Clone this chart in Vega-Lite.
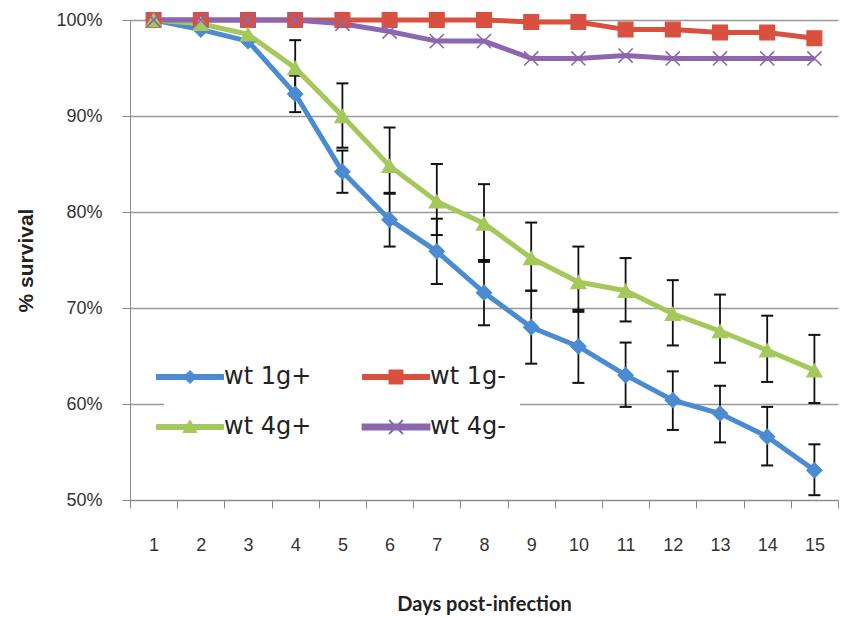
{
  "$schema": "https://vega.github.io/schema/vega-lite/v6.json",
  "width": 708,
  "height": 480,
  "autosize": "none",
  "padding": {"left": 130, "top": 20, "right": 16, "bottom": 117},
  "background": "white",
  "config": {"view": {"stroke": null}, "font": "Liberation Sans"},
  "data": {
    "values": [
      {"day": 1, "series": "wt 1g+", "value": 100},
      {"day": 2, "series": "wt 1g+", "value": 99.0},
      {"day": 3, "series": "wt 1g+", "value": 97.8},
      {"day": 4, "series": "wt 1g+", "value": 92.3, "lo": 90.4, "hi": 94.2},
      {"day": 5, "series": "wt 1g+", "value": 84.2, "lo": 82.0, "hi": 86.4},
      {"day": 6, "series": "wt 1g+", "value": 79.2, "lo": 76.4, "hi": 82.0},
      {"day": 7, "series": "wt 1g+", "value": 75.9, "lo": 72.5, "hi": 79.3},
      {"day": 8, "series": "wt 1g+", "value": 71.6, "lo": 68.2, "hi": 75.0},
      {"day": 9, "series": "wt 1g+", "value": 68.0, "lo": 64.2, "hi": 71.8},
      {"day": 10, "series": "wt 1g+", "value": 66.0, "lo": 62.2, "hi": 69.8},
      {"day": 11, "series": "wt 1g+", "value": 63.0, "lo": 59.7, "hi": 66.4},
      {"day": 12, "series": "wt 1g+", "value": 60.4, "lo": 57.3, "hi": 63.4},
      {"day": 13, "series": "wt 1g+", "value": 59.0, "lo": 56.0, "hi": 61.9},
      {"day": 14, "series": "wt 1g+", "value": 56.6, "lo": 53.6, "hi": 59.7},
      {"day": 15, "series": "wt 1g+", "value": 53.1, "lo": 50.5, "hi": 55.8},

      {"day": 1, "series": "wt 1g-", "value": 100},
      {"day": 2, "series": "wt 1g-", "value": 100},
      {"day": 3, "series": "wt 1g-", "value": 100},
      {"day": 4, "series": "wt 1g-", "value": 100},
      {"day": 5, "series": "wt 1g-", "value": 100},
      {"day": 6, "series": "wt 1g-", "value": 100},
      {"day": 7, "series": "wt 1g-", "value": 100},
      {"day": 8, "series": "wt 1g-", "value": 100},
      {"day": 9, "series": "wt 1g-", "value": 99.8},
      {"day": 10, "series": "wt 1g-", "value": 99.8},
      {"day": 11, "series": "wt 1g-", "value": 99.0},
      {"day": 12, "series": "wt 1g-", "value": 99.0},
      {"day": 13, "series": "wt 1g-", "value": 98.7},
      {"day": 14, "series": "wt 1g-", "value": 98.7},
      {"day": 15, "series": "wt 1g-", "value": 98.1},

      {"day": 1, "series": "wt 4g+", "value": 100},
      {"day": 2, "series": "wt 4g+", "value": 99.6},
      {"day": 3, "series": "wt 4g+", "value": 98.5},
      {"day": 4, "series": "wt 4g+", "value": 95.0, "lo": 92.1, "hi": 97.9},
      {"day": 5, "series": "wt 4g+", "value": 90.0, "lo": 86.7, "hi": 93.4},
      {"day": 6, "series": "wt 4g+", "value": 84.8, "lo": 81.9, "hi": 88.8},
      {"day": 7, "series": "wt 4g+", "value": 81.1, "lo": 77.6, "hi": 85.0},
      {"day": 8, "series": "wt 4g+", "value": 78.8, "lo": 74.8, "hi": 82.9},
      {"day": 9, "series": "wt 4g+", "value": 75.2, "lo": 71.8, "hi": 78.9},
      {"day": 10, "series": "wt 4g+", "value": 72.7, "lo": 69.6, "hi": 76.4},
      {"day": 11, "series": "wt 4g+", "value": 71.8, "lo": 68.6, "hi": 75.2},
      {"day": 12, "series": "wt 4g+", "value": 69.4, "lo": 66.1, "hi": 72.9},
      {"day": 13, "series": "wt 4g+", "value": 67.6, "lo": 64.3, "hi": 71.4},
      {"day": 14, "series": "wt 4g+", "value": 65.6, "lo": 62.3, "hi": 69.2},
      {"day": 15, "series": "wt 4g+", "value": 63.5, "lo": 60.1, "hi": 67.2},

      {"day": 1, "series": "wt 4g-", "value": 100},
      {"day": 2, "series": "wt 4g-", "value": 100},
      {"day": 3, "series": "wt 4g-", "value": 100},
      {"day": 4, "series": "wt 4g-", "value": 100},
      {"day": 5, "series": "wt 4g-", "value": 99.6},
      {"day": 6, "series": "wt 4g-", "value": 98.8},
      {"day": 7, "series": "wt 4g-", "value": 97.8},
      {"day": 8, "series": "wt 4g-", "value": 97.8},
      {"day": 9, "series": "wt 4g-", "value": 96.0},
      {"day": 10, "series": "wt 4g-", "value": 96.0},
      {"day": 11, "series": "wt 4g-", "value": 96.3},
      {"day": 12, "series": "wt 4g-", "value": 96.0},
      {"day": 13, "series": "wt 4g-", "value": 96.0},
      {"day": 14, "series": "wt 4g-", "value": 96.0},
      {"day": 15, "series": "wt 4g-", "value": 96.0}
    ]
  },
  "encoding": {
    "x": {
      "field": "day",
      "type": "ordinal",
      "scale": {"type": "band", "paddingInner": 0, "paddingOuter": 0},
      "axis": {
        "title": "Days post-infection",
        "titleFont": "Lato",
        "titleFontWeight": "bold",
        "titleFontSize": 20,
        "titleColor": "#222",
        "titlePadding": 40,
        "labelAngle": 0,
        "labelFontSize": 18,
        "labelColor": "#333",
        "labelPadding": 28,
        "tickBand": "extent",
        "tickSize": 8,
        "tickColor": "#8a8a8a",
        "domainColor": "#8a8a8a",
        "grid": false
      }
    },
    "y": {
      "field": "value",
      "type": "quantitative",
      "scale": {"domain": [50, 100], "nice": false, "zero": false},
      "axis": {
        "title": "% survival",
        "titleFontSize": 21,
        "titleFontWeight": "bold",
        "titleColor": "#222",
        "titleX": -94,
        "titleY": 240,
        "values": [50, 60, 70, 80, 90, 100],
        "labelExpr": "datum.value + '%'",
        "labelFontSize": 18,
        "labelColor": "#333",
        "labelPadding": 20,
        "tickSize": 8,
        "tickColor": "#8a8a8a",
        "domainColor": "#8a8a8a",
        "gridColor": "#999",
        "gridWidth": 1.3
      }
    }
  },
  "layer": [
    {
      "transform": [{"filter": "isValid(datum.lo)"}],
      "mark": {"type": "rule", "color": "#111", "strokeWidth": 1.8},
      "encoding": {
        "y": {"field": "lo", "type": "quantitative"},
        "y2": {"field": "hi"}
      }
    },
    {
      "transform": [{"filter": "isValid(datum.lo)"}],
      "mark": {"type": "tick", "color": "#111", "size": 12, "thickness": 2, "opacity": 1},
      "encoding": {"y": {"field": "lo", "type": "quantitative"}}
    },
    {
      "transform": [{"filter": "isValid(datum.hi)"}],
      "mark": {"type": "tick", "color": "#111", "size": 12, "thickness": 2, "opacity": 1},
      "encoding": {"y": {"field": "hi", "type": "quantitative"}}
    },
    {
      "mark": {"type": "line", "strokeWidth": 5},
      "encoding": {
        "color": {
          "field": "series",
          "type": "nominal",
          "scale": {
            "domain": ["wt 1g+", "wt 1g-", "wt 4g+", "wt 4g-"],
            "range": ["#4a8bd1", "#d9503f", "#a5c85b", "#8b67b0"]
          },
          "legend": {
            "orient": "none",
            "legendX": 34,
            "legendY": 331,
            "columns": 2,
            "direction": "horizontal",
            "title": null,
            "labelFont": "DejaVu Sans",
            "labelFontSize": 24,
            "labelColor": "#222",
            "fillColor": "white",
            "padding": 14,
            "rowPadding": 26,
            "columnPadding": 46,
            "labelOffset": 22,
            "symbolSize": 100,
            "encode": {
              "symbols": {
                "update": {
                  "shape": {"signal": "datum.value === 'wt 1g+' ? 'M-6.7,-0.5L6.7,-0.5L6.7,0.5L-6.7,0.5Z M0,-1.3L1.3,0L0,1.3L-1.3,0Z' : datum.value === 'wt 1g-' ? 'M-6.7,-0.5L6.7,-0.5L6.7,0.5L-6.7,0.5Z M-1.4,-1.4L1.4,-1.4L1.4,1.4L-1.4,1.4Z' : datum.value === 'wt 4g+' ? 'M-6.7,-0.5L6.7,-0.5L6.7,0.5L-6.7,0.5Z M0,-1.4L1.4,1.1L-1.4,1.1Z' : 'M-6.7,-0.5L6.7,-0.5L6.7,0.5L-6.7,0.5Z M-1.4,-1.4L1.4,1.4M-1.4,1.4L1.4,-1.4'"},
                  "fill": {"signal": "scale('color', datum.value)"},
                  "stroke": {"signal": "scale('color', datum.value)"},
                  "strokeWidth": {"signal": "datum.value === 'wt 4g-' ? 1.8 : 1"},
                  "opacity": {"value": 1}
                }
              }
            }
          }
        }
      }
    },
    {
      "transform": [{"filter": "datum.series === 'wt 1g+'"}],
      "mark": {"type": "point", "shape": "diamond", "filled": true, "size": 230, "opacity": 1, "strokeWidth": 1.2, "stroke": "#4a8bd1"},
      "encoding": {"color": {"field": "series", "type": "nominal", "legend": null}}
    },
    {
      "transform": [{"filter": "datum.series === 'wt 1g-'"}],
      "mark": {"type": "point", "shape": "square", "filled": true, "size": 220, "opacity": 1, "strokeWidth": 1.2, "stroke": "#d9503f"},
      "encoding": {"color": {"field": "series", "type": "nominal", "legend": null}}
    },
    {
      "transform": [{"filter": "datum.series === 'wt 4g+'"}],
      "mark": {"type": "point", "shape": "triangle-up", "filled": true, "size": 230, "opacity": 1, "strokeWidth": 1.2, "stroke": "#a5c85b"},
      "encoding": {"color": {"field": "series", "type": "nominal", "legend": null}}
    },
    {
      "transform": [{"filter": "datum.series === 'wt 4g-'"}],
      "mark": {"type": "point", "shape": "M-1,-1L1,1M-1,1L1,-1", "filled": true, "size": 200, "opacity": 1, "strokeWidth": 1.6, "stroke": "#8b67b0"},
      "encoding": {"color": {"field": "series", "type": "nominal", "legend": null}}
    }
  ]
}
